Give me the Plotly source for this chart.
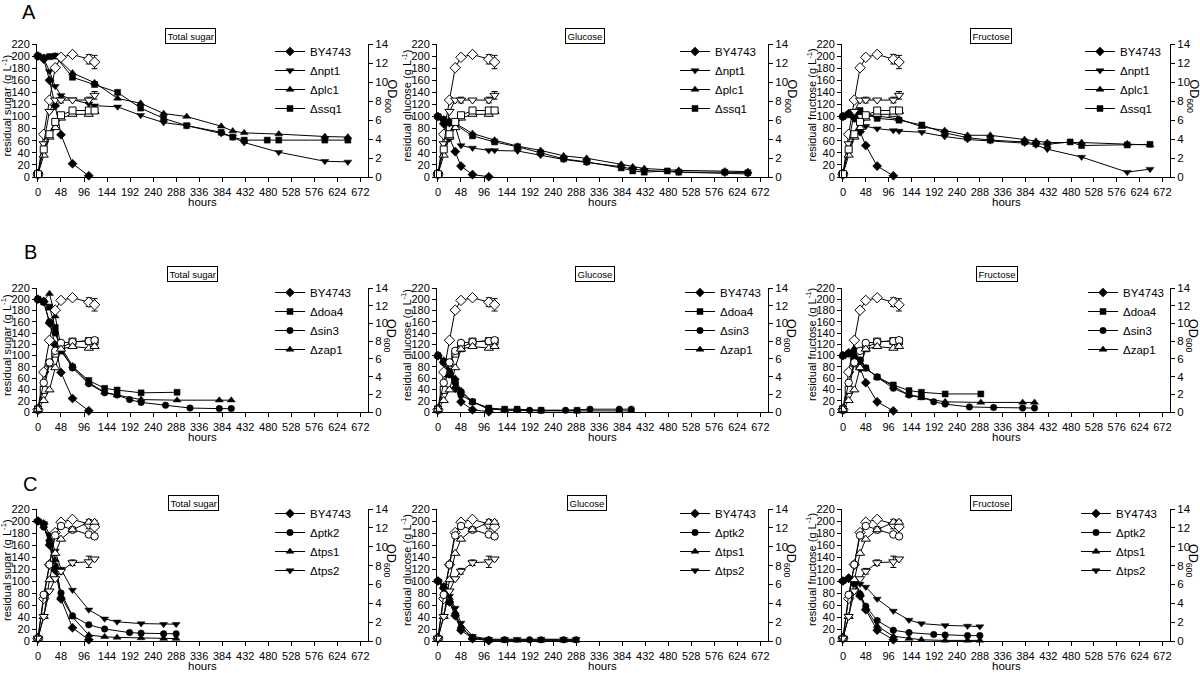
import plotly.graph_objects as go

FIG_W, FIG_H = 1200, 673
FONT = "Arial, Liberation Sans, sans-serif"

# ---------------- tick labels / text ----------------
hours_ticks = list(range(0, 673, 48))
sugar_ticks = list(range(0, 221, 20))
od_ticks = list(range(0, 15, 2))
panel_titles = ["Total sugar", "Glucose", "Fructose"]
y_titles = ["residual sugar (g L<sup>-1</sup>)", "residual glucose (g L<sup>-1</sup>)",
            "residual fructose (g L<sup>-1</sup>)"]
row_letters = ["A", "B", "C"]

# ---------------- row A ----------------
A_strains = ["BY4743", "Δnpt1", "Δplc1", "Δssq1"]
A_symbols = ["diamond", "triangle-down", "triangle-up", "square"]
A_t_BY = [0, 12, 24, 36, 48, 72, 106]
A_total_BY = [200, 195, 160, 118, 70, 22, 2]
A_gluc_BY = [100, 88, 65, 42, 18, 4, 0.5]
A_fruc_BY = [100, 105, 98, 75, 52, 18, 2]
A_t_npt1 = [0, 12, 24, 36, 48, 72, 106, 118, 166, 214, 262, 310, 382, 406, 430, 502, 598, 646]
A_total_npt1 = [200, 196, 175, 150, 135, 128, 121, 118, 116, 102, 90, 85, 72, 66, 57, 41, 26, 25]
A_gluc_npt1 = [100, 92, 88, 84, 52, 48, 44, 44, 43, 36, 29, 24, 17, 13, 11, 8, 6, 5]
A_fruc_npt1 = [100, 104, 96, 92, 84, 80, 77, 76, 74, 67, 62, 60, 56, 53, 46, 33, 8, 13]
A_t_plc1 = [0, 12, 24, 36, 72, 118, 166, 214, 262, 310, 382, 406, 430, 502, 598, 646]
A_total_plc1 = [200, 198, 199, 200, 172, 156, 130, 122, 105, 100, 84, 76, 73, 71, 67, 66]
A_gluc_plc1 = [100, 96, 93, 89, 72, 61, 51, 44, 35, 31, 21, 17, 14, 11, 10, 9]
A_fruc_plc1 = [100, 104, 105, 106, 101, 96, 83, 77, 69, 69, 62, 59, 57, 57, 55, 53]
A_t_ssq1 = [0, 12, 24, 36, 72, 118, 166, 214, 262, 310, 382, 406, 430, 478, 502, 598, 646]
A_total_ssq1 = [200, 197, 199, 200, 165, 153, 140, 114, 97, 85, 74, 66, 61, 61, 61, 61, 61]
A_gluc_ssq1 = [100, 95, 90, 87, 68, 58, 50, 40, 30, 25, 15, 10, 8, 10, 8, 8, 7]
A_fruc_ssq1 = [100, 103, 100, 110, 97, 94, 86, 73, 65, 61, 58, 55, 54, 58, 52, 53, 54]
A_t_od = [0, 12, 24, 36, 48, 72, 106, 118]
A_od_BY = [0.3, 4.5, 8.1, 11.5, 12.6, 12.9, 12.4, 12.1]
A_od_npt1 = [0.3, 3.5, 6.9, 8.1, 8.1, 8.1, 8.1, 8.6]
A_od_plc1 = [0.3, 2.3, 4.2, 5.2, 6.2, 6.6, 6.6, 6.9]
A_od_ssq1 = [0.3, 2.9, 4.5, 5.8, 6.5, 7.0, 7.0, 7.0]
A_od_err_BY = [0, 0, 0, 0, 0, 0, 0.5, 0.7]
A_od_err_npt1 = [0, 0, 0, 0, 0.3, 0, 0.3, 0.4]

# ---------------- row B ----------------
B_strains = ["BY4743", "Δdoa4", "Δsin3", "Δzap1"]
B_symbols = ["diamond", "square", "circle", "triangle-up"]
B_t_BY = [0, 12, 24, 36, 48, 72, 106]
B_total_BY = [200, 196, 158, 119, 70, 24, 2]
B_gluc_BY = [100, 88, 68, 42, 18, 4, 0.5]
B_fruc_BY = [100, 105, 95, 78, 52, 18, 2]
B_t_doa4 = [0, 12, 24, 36, 48, 72, 106, 139, 165, 215, 290]
B_total_doa4 = [200, 195, 186, 150, 108, 80, 56, 42, 39, 34, 35]
B_gluc_doa4 = [100, 90, 72, 55, 35, 18, 7, 5, 5, 3, 3]
B_fruc_doa4 = [100, 103, 108, 95, 78, 62, 48, 38, 35, 32, 32]
B_t_sin3 = [0, 12, 24, 36, 48, 72, 106, 139, 165, 191, 215, 266, 317, 378, 403]
B_total_sin3 = [200, 195, 160, 140, 112, 78, 50, 34, 30, 22, 17, 12, 7, 6, 6]
B_gluc_sin3 = [100, 88, 66, 52, 30, 18, 5, 4, 4, 3, 3, 3, 5, 5, 5]
B_fruc_sin3 = [100, 104, 100, 90, 78, 62, 42, 30, 27, 18, 14, 9, 8, 7, 7]
B_t_zap1 = [0, 12, 24, 36, 48, 72, 106, 139, 165, 215, 290, 378, 403]
B_total_zap1 = [200, 198, 210, 170, 115, 82, 52, 35, 30, 22, 21, 21, 21]
B_gluc_zap1 = [100, 92, 72, 60, 38, 18, 6, 3, 3, 2, 2, 2, 2]
B_fruc_zap1 = [100, 105, 112, 95, 78, 62, 45, 30, 25, 18, 17, 17, 17]
B_t_od = [0, 12, 24, 36, 48, 72, 106, 118]
B_od_BY = [0.3, 4.5, 8.1, 11.5, 12.6, 12.9, 12.4, 12.1]
B_od_doa4 = [0.3, 2.5, 5.5, 6.6, 7.2, 7.95, 8.0, 8.0]
B_od_sin3 = [0.3, 3.3, 5.6, 6.9, 7.8, 7.9, 8.0, 8.1]
B_od_zap1 = [0.3, 1.3, 2.5, 5.0, 7.1, 7.4, 7.2, 7.4]
B_od_err_BY = [0, 0, 0, 0, 0, 0, 0.5, 0.7]

# ---------------- row C ----------------
C_strains = ["BY4743", "Δptk2", "Δtps1", "Δtps2"]
C_symbols = ["diamond", "circle", "triangle-up", "triangle-down"]
C_t_BY = [0, 12, 24, 36, 48, 72, 106]
C_total_BY = [200, 195, 160, 118, 70, 22, 2]
C_gluc_BY = [100, 88, 65, 42, 18, 4, 0.5]
C_fruc_BY = [100, 105, 98, 75, 52, 18, 2]
C_t_ptk2 = [0, 12, 24, 36, 48, 72, 106, 139, 191, 215, 262, 288]
C_total_ptk2 = [200, 190, 165, 125, 80, 42, 27, 20, 14, 13, 12, 12]
C_gluc_ptk2 = [100, 90, 65, 44, 22, 6, 2, 2, 2, 2, 2, 2]
C_fruc_ptk2 = [100, 104, 95, 78, 58, 34, 18, 14, 11, 10, 9, 9]
C_t_tps1 = [0, 12, 24, 36, 48, 72, 106, 139, 165, 215, 262, 288]
C_total_tps1 = [200, 192, 170, 135, 75, 40, 10, 7, 6, 5, 4, 4]
C_gluc_tps1 = [100, 92, 72, 48, 24, 5, 1, 1, 1, 1, 1, 1]
C_fruc_tps1 = [100, 103, 100, 80, 55, 25, 8, 4, 2, 1, 1, 1]
C_t_tps2 = [0, 12, 24, 36, 48, 72, 106, 139, 165, 215, 262, 288]
C_total_tps2 = [200, 196, 178, 150, 120, 85, 52, 37, 32, 29, 28, 28]
C_gluc_tps2 = [100, 92, 75, 55, 30, 8, 3, 3, 3, 3, 3, 3]
C_fruc_tps2 = [100, 103, 102, 95, 90, 70, 50, 35, 29, 26, 25, 24]
C_t_od = [0, 12, 24, 36, 48, 72, 106, 118]
C_od_BY = [0.3, 4.5, 8.1, 11.5, 12.6, 12.9, 12.4, 12.1]
C_od_ptk2 = [0.3, 4.9, 8.1, 11.2, 12.2, 11.8, 11.3, 11.1]
C_od_tps1 = [0.3, 2.6, 6.5, 9.3, 10.8, 11.8, 12.6, 12.6]
C_od_tps2 = [0.3, 2.6, 5.3, 6.6, 7.4, 8.3, 8.4, 8.7]
C_od_err_tps2 = [0, 0, 0, 0, 0.3, 0.3, 0.6, 0]

# ---------------- assemble rows ----------------
rows = [
    dict(strains=A_strains, symbols=A_symbols,
         t=[A_t_BY, A_t_npt1, A_t_plc1, A_t_ssq1],
         vals=[[A_total_BY, A_total_npt1, A_total_plc1, A_total_ssq1],
               [A_gluc_BY, A_gluc_npt1, A_gluc_plc1, A_gluc_ssq1],
               [A_fruc_BY, A_fruc_npt1, A_fruc_plc1, A_fruc_ssq1]],
         t_od=A_t_od, od=[A_od_BY, A_od_npt1, A_od_plc1, A_od_ssq1],
         od_err=[A_od_err_BY, A_od_err_npt1, None, None]),
    dict(strains=B_strains, symbols=B_symbols,
         t=[B_t_BY, B_t_doa4, B_t_sin3, B_t_zap1],
         vals=[[B_total_BY, B_total_doa4, B_total_sin3, B_total_zap1],
               [B_gluc_BY, B_gluc_doa4, B_gluc_sin3, B_gluc_zap1],
               [B_fruc_BY, B_fruc_doa4, B_fruc_sin3, B_fruc_zap1]],
         t_od=B_t_od, od=[B_od_BY, B_od_doa4, B_od_sin3, B_od_zap1],
         od_err=[B_od_err_BY, None, None, None]),
    dict(strains=C_strains, symbols=C_symbols,
         t=[C_t_BY, C_t_ptk2, C_t_tps1, C_t_tps2],
         vals=[[C_total_BY, C_total_ptk2, C_total_tps1, C_total_tps2],
               [C_gluc_BY, C_gluc_ptk2, C_gluc_tps1, C_gluc_tps2],
               [C_fruc_BY, C_fruc_ptk2, C_fruc_tps1, C_fruc_tps2]],
         t_od=C_t_od, od=[C_od_BY, C_od_ptk2, C_od_tps1, C_od_tps2],
         od_err=[A_od_err_BY, None, None, C_od_err_tps2]),
]

# ---------------- layout geometry (pixels) ----------------
col_px = [(37, 368), (437, 768), (842, 1170)]
row_px = [(44, 177), (288, 412), (509, 641)]
legend_text_x = [[312, 717, 1122], [312, 722, 1125], [312, 717, 1118]]
legend_first_y = [49, 290, 511]
title_box_pos = [[(190, 36), (585, 36), (991, 36)],
                 [(192, 274), (595, 274), (997, 274)],
                 [(194, 503), (587, 503), (991, 503)]]
letter_pos = [(29, 12), (30, 252), (30, 484)]


def fx(px):
    return px / FIG_W


def fy(py):
    return 1 - py / FIG_H


SIZES = {"diamond": 7, "square": 6, "circle": 6.5, "triangle-up": 7, "triangle-down": 7}

fig = go.Figure()
layout = dict(width=FIG_W, height=FIG_H,
              margin=dict(l=0, r=0, t=0, b=0, pad=0, autoexpand=False),
              paper_bgcolor="white", plot_bgcolor="white",
              font=dict(family=FONT, color="black"), showlegend=True)
annotations = []

axis_base = dict(showline=True, linecolor="black", linewidth=1, ticks="outside", ticklen=4,
                 tickwidth=1, tickcolor="black", showgrid=False, zeroline=False,
                 automargin=False)

for r, row in enumerate(rows):
    for c in range(3):
        p = r * 3 + c
        xid = "x" if p == 0 else f"x{p+1}"
        yid = "y" if p == 0 else f"y{p+1}"
        y2id = f"y{p+10}"
        leg = "legend" if p == 0 else f"legend{p+1}"
        x0, x1 = col_px[c]
        ytop, ybot = row_px[r]

        layout["xaxis" if p == 0 else f"xaxis{p+1}"] = dict(
            axis_base, domain=[fx(x0), fx(x1)], anchor=yid, range=[-2, 688],
            tickvals=hours_ticks, ticklabelstandoff=1,
            tickfont=dict(family=FONT, size=11, color="black"))
        layout["yaxis" if p == 0 else f"yaxis{p+1}"] = dict(
            axis_base, domain=[fy(ybot), fy(ytop)], anchor=xid, range=[0, 220],
            tickvals=sugar_ticks, tickfont=dict(family=FONT, size=11, color="black"))
        layout[f"yaxis{p+10}"] = dict(
            axis_base, overlaying=yid, anchor=xid, side="right", range=[0, 14],
            tickvals=od_ticks, tickfont=dict(family=FONT, size=11.5, color="black"))

        # sugar (filled) traces
        for k in range(4):
            sym = row["symbols"][k]
            fig.add_trace(go.Scatter(
                x=row["t"][k], y=row["vals"][c][k], mode="lines+markers",
                name=row["strains"][k], legend=leg, xaxis=xid, yaxis=yid,
                line=dict(color="black", width=1), cliponaxis=False,
                marker=dict(symbol=sym, size=SIZES[sym], color="black",
                            line=dict(color="black", width=0.5)),
                showlegend=True))
        # OD (open) traces
        for k in range(4):
            sym = row["symbols"][k]
            err = row["od_err"][k]
            fig.add_trace(go.Scatter(
                x=row["t_od"], y=row["od"][k], mode="lines+markers",
                name=row["strains"][k] + " OD600", legend=leg, xaxis=xid, yaxis=y2id,
                line=dict(color="black", width=1), cliponaxis=False,
                marker=dict(symbol=sym, size=SIZES[sym] + 1, color="white",
                            line=dict(color="black", width=1)),
                error_y=(dict(type="data", array=err, color="black", thickness=1, width=3)
                         if err is not None else None),
                showlegend=False))

        # legend
        tx = legend_text_x[r][c]
        layout[leg] = dict(x=fx(tx - 42), y=fy(legend_first_y[r] - 12), xanchor="left",
                           yanchor="top", bgcolor="rgba(0,0,0,0)", borderwidth=0,
                           itemwidth=30, tracegroupgap=0,
                           font=dict(family=FONT, size=11.5, color="black"))

        # panel title box
        bx, by = title_box_pos[r][c]
        annotations.append(dict(x=fx(bx), y=fy(by), xref="paper", yref="paper",
                                text=panel_titles[c], showarrow=False,
                                font=dict(family=FONT, size=9.5, color="black"),
                                bordercolor="black", borderwidth=1, borderpad=1.5,
                                bgcolor="white", xanchor="center", yanchor="middle"))
        # left y title
        annotations.append(dict(x=fx(x0 - 31), y=fy((ytop + ybot) / 2 - 5), xref="paper",
                                yref="paper", text=y_titles[c], showarrow=False, textangle=-90,
                                font=dict(family=FONT, size=11, color="black"),
                                xanchor="center", yanchor="middle"))
        # right OD title
        annotations.append(dict(x=fx(x1 + 22), y=fy((ytop + ybot) / 2 - 15), xref="paper",
                                yref="paper", text="OD<sub>600</sub>", showarrow=False,
                                textangle=90, font=dict(family=FONT, size=12.5, color="black"),
                                xanchor="center", yanchor="middle"))
        # x title
        annotations.append(dict(x=fx((x0 + x1) / 2), y=fy(ybot + 25), xref="paper",
                                yref="paper", text="hours", showarrow=False,
                                font=dict(family=FONT, size=11.5, color="black"),
                                xanchor="center", yanchor="middle"))
    lx, ly = letter_pos[r]
    annotations.append(dict(x=fx(lx), y=fy(ly), xref="paper", yref="paper",
                            text=row_letters[r], showarrow=False,
                            font=dict(family=FONT, size=20, color="black"),
                            xanchor="center", yanchor="middle"))

layout["annotations"] = annotations
fig.update_layout(**layout)
fig.write_html("out.html", config={"displayModeBar": False},
               post_script="document.body.style.margin='0';document.body.style.overflow='hidden';")
